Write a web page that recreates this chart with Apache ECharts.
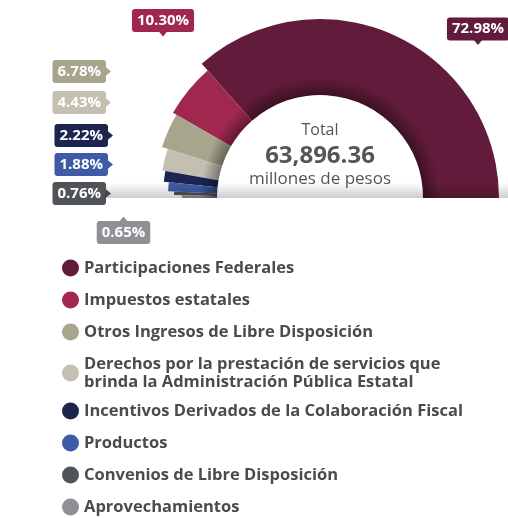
<!DOCTYPE html>
<html><head><meta charset="utf-8">
<script src="https://cdn.jsdelivr.net/npm/echarts@6/dist/echarts.min.js"></script>
<style>html,body{margin:0;padding:0;background:#fff}#c{width:508px;height:518px}</style>
</head><body><div id="c"></div>
<script>
// ---- data ----
const categories = [
  'Participaciones Federales',
  'Impuestos estatales',
  'Otros Ingresos de Libre Disposición',
  'Derechos por la prestación de servicios que\nbrinda la Administración Pública Estatal',
  'Incentivos Derivados de la Colaboración Fiscal',
  'Productos',
  'Convenios de Libre Disposición',
  'Aprovechamientos'
];
const shares = [72.98, 10.30, 6.78, 4.43, 2.22, 1.88, 0.76, 0.65];
const totalText = '63,896.36';
const totalTitle = 'Total';
const totalUnit = 'millones de pesos';

// ---- styles / layout ----
const colors = ['#621B3A', '#A0284E', '#A8A58D', '#C4C0B1', '#1B2550', '#3F5BA5', '#505459', '#8E9093'];
const outerRadius = [179, 170, 166, 160, 157, 152, 146, 138];
const innerRadius = 103;
const CX = 320, CY = 198;
const FONT = '"Open Sans", "DejaVu Sans", sans-serif';
// label anchor: x, y, align, arrow direction
const labelPos = [
  [478, 29, 'center', 'down'],
  [163, 20.5, 'center', 'down'],
  [106, 71.5, 'right', 'right'],
  [106, 102.5, 'right', 'right'],
  [108, 135.5, 'right', 'right'],
  [108, 164.5, 'right', 'right'],
  [106, 193.5, 'right', 'right'],
  [123.5, 232.5, 'center', 'up']
];

function shade(hex, f) {
  const n = parseInt(hex.slice(1), 16);
  const r = (n >> 16) & 255, g = (n >> 8) & 255, b = n & 255;
  return 'rgb(' + Math.round(r * f) + ',' + Math.round(g * f) + ',' + Math.round(b * f) + ')';
}
function fillFor(hex) {
  return {
    type: 'radial', x: CX, y: CY, r: 179, global: true,
    colorStops: [
      { offset: 0, color: shade(hex, 0.6) },
      { offset: innerRadius / 179, color: shade(hex, 0.62) },
      { offset: 0.67, color: hex },
      { offset: 1, color: hex }
    ]
  };
}

const spacer = shares.reduce((a, b) => a + b, 0);

const series = shares.map((v, i) => ({
  type: 'pie',
  name: categories[i],
  center: [CX, CY],
  radius: [innerRadius, outerRadius[i]],
  startAngle: 0,
  clockwise: false,
  silent: true,
  animation: false,
  avoidLabelOverlap: false,
  labelLine: { show: false },
  emphasis: { disabled: true },
  z: 2,
  data: shares.map((w, j) => ({
    name: categories[j],
    value: w,
    itemStyle: j === i ? { color: fillFor(colors[j]) } : { color: 'rgba(0,0,0,0)' },
    label: j === i ? {
      show: true,
      formatter: p => p.value.toFixed(2) + '%',
      color: '#fff',
      fontFamily: FONT,
      fontWeight: 'bold',
      fontSize: 15,
      lineHeight: 18,
      backgroundColor: colors[j],
      padding: [3, 5, 2, 5],
      borderRadius: 3
    } : { show: false }
  })).concat([{ name: '', value: spacer, itemStyle: { color: 'rgba(0,0,0,0)' }, label: { show: false } }]),
  labelLayout: function (p) {
    const pos = labelPos[p.seriesIndex];
    return { x: pos[0], y: pos[1], align: pos[2], verticalAlign: 'middle', hideOverlap: false };
  }
}));

// pointer triangles for callouts
const arrows = labelPos.map((pos, i) => {
  const [x, y, align, dir] = pos;
  let pts;
  if (dir === 'right') pts = [[x - 1, y - 5], [x + 5, y], [x - 1, y + 5]];
  else if (dir === 'down') pts = [[x - 5, y + 10], [x, y + 16], [x + 5, y + 10]];
  else pts = [[x - 5, y - 10], [x, y - 16], [x + 5, y - 10]];
  return { type: 'polygon', shape: { points: pts }, style: { fill: colors[i] }, z: 1, silent: true };
});

const legendText = { fontFamily: FONT, fontWeight: 'bold', fontSize: 16.5, color: '#4b4b4b', lineHeight: 18 };
function legendData(from, to) {
  return categories.slice(from, to).map((n, k) => ({ name: n, itemStyle: { color: colors[from + k] } }));
}

const option = {
  animation: false,
  backgroundColor: '#fff',
  legend: [
    { orient: 'vertical', left: 62, top: 259, padding: 0, itemGap: 14, itemWidth: 17, itemHeight: 17,
      icon: 'circle', selectedMode: false, textStyle: legendText, data: legendData(0, 4) },
    { orient: 'vertical', left: 62, top: 402, padding: 0, itemGap: 14, itemWidth: 17, itemHeight: 17,
      icon: 'circle', selectedMode: false, textStyle: legendText, data: legendData(4, 8) }
  ],
  graphic: arrows.concat([
    { type: 'rect', shape: { x: 105, y: 183, width: 403, height: 15 }, silent: true, z: 5,
      style: { fill: { type: 'linear', x: 0, y: 0, x2: 0, y2: 1, colorStops: [
        { offset: 0, color: 'rgba(0,0,0,0)' }, { offset: 1, color: 'rgba(0,0,0,0.2)' }] } } },
    { type: 'text', x: CX, y: 130, z: 6, silent: true,
      style: { text: totalTitle, fill: '#555', font: '16px ' + FONT, align: 'center', verticalAlign: 'middle' } },
    { type: 'text', x: CX, y: 156, z: 6, silent: true,
      style: { text: totalText, fill: '#555', font: 'bold 24px ' + FONT, align: 'center', verticalAlign: 'middle' } },
    { type: 'text', x: CX, y: 179, z: 6, silent: true,
      style: { text: totalUnit, fill: '#555', font: '17px ' + FONT, align: 'center', verticalAlign: 'middle' } }
  ]),
  series: series
};

const chart = echarts.init(document.getElementById('c'), null, { renderer: 'canvas' });
chart.setOption(option);
</script>
</body></html>
